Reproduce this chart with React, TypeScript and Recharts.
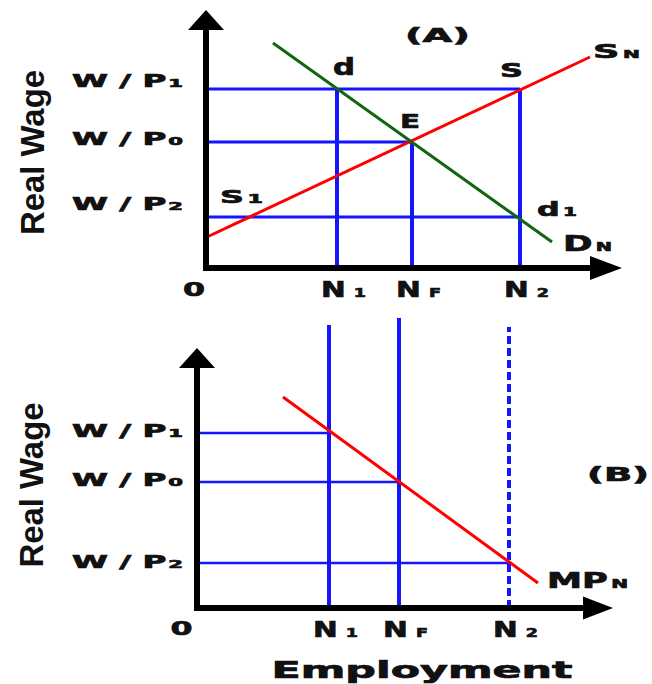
import React from "react";
import { LineChart, Line, XAxis, YAxis, ReferenceLine, ReferenceDot } from "recharts";

// panel (A): labour market, real wage vs employment
const wageA = [7.16, 5.04, 2.04]; // W/P1, W/P0, W/P2
const employA = [3.275, 5.15, 7.85]; // N1, NF, N2
const supplyA = [
  { n: 0.025, w: 1.24 },
  { n: 9.6, w: 8.44 },
];
const demandA = [
  { n: 1.675, w: 9.0 },
  { n: 8.65, w: 1.04 },
];
const axisTipA = { n: 10.4, w: 10.32 };

// panel (B): marginal product of labour
const wageB = [7.0, 5.04, 1.8];
const employB = [3.3, 5.05, 7.8];
const employTopB = [11.32, 11.6, 11.24];
const mpB = [
  { n: 2.15, w: 8.44 },
  { n: 8.525, w: 1.0 },
];
const axisTipB = { n: 10.4, w: 10.4 };

const wageLabels = [["W / P", "1"], ["W / P", "0"], ["W / P", "2"]];
const employLabels = [["N", "1"], ["N", "F"], ["N", "2"]];

const notesA = [
  { main: "d", sub: "", n: 3.175, w: 7.72 },
  { main: "S", sub: "", n: 7.35, w: 7.64 },
  { main: "E", sub: "", n: 4.85, w: 5.6 },
  { main: "(A)", sub: "", n: 4.975, w: 9.04 },
  { main: "S", sub: "N", n: 9.675, w: 8.4 },
  { main: "d", sub: "1", n: 8.275, w: 2.08 },
  { main: "D", sub: "N", n: 8.925, w: 0.68 },
  { main: "S", sub: "1", n: 0.35, w: 2.6 },
];
const notesB = [
  { main: "(B)", sub: "", n: 9.75, w: 5.08 },
  { main: "MP", sub: "N", n: 8.75, w: 0.8 },
];

// text sizes for the annotations: [font, sub font, stretched width]
const noteFont: Record<string, number[]> = {
  d: [23, 12, 22],
  S: [20, 11, 23],
  E: [20, 11, 20],
  "(A)": [20, 11, 65],
  SN: [20, 11, 47],
  d1: [19, 12, 40],
  DN: [22, 12, 49],
  S1: [18, 12, 43],
  "(B)": [20, 11, 62],
  MPN: [21, 12, 81],
};

const FONT = "'DejaVu Sans', Verdana, sans-serif";
const BLUE = "#1414ff";
const RED = "#ff0000";
const GREEN = "#116611";
const INK = "#111";

// DejaVu Sans Bold advance widths (em) for the glyphs used here
const ADV: Record<string, number> = {
  " ": 0.348, "(": 0.457, ")": 0.457, "/": 0.365,
  A: 0.774, B: 0.762, D: 0.83, E: 0.683, F: 0.683, M: 0.995, N: 0.837, P: 0.733, S: 0.72, W: 1.104,
  d: 0.716, e: 0.678, l: 0.343, m: 1.042, n: 0.712, o: 0.687, p: 0.716, t: 0.478, y: 0.652,
};
const adv = (s: string, size: number) =>
  s.split("").reduce((acc, c) => acc + (ADV[c] ?? (c >= "0" && c <= "9" ? 0.696 : 0.7)) * size, 0);

// bold text stretched horizontally to a given width (the source art is widened)
function Sub({ x, y, main, sub, size, subSize = 11, width, anchor = "start", subDx = 2 }: any) {
  const natural = adv(main, size) + (sub ? subDx + adv(sub, subSize) : 0);
  const k = width / natural;
  return (
    <text
      transform={`translate(${x},${y}) scale(${k.toFixed(3)},1)`}
      x={0}
      y={0}
      textAnchor={anchor}
      fontFamily={FONT}
      fontWeight="bold"
      fontSize={size}
      fill={INK}
      stroke={INK}
      strokeWidth={0.7}
    >
      {main}
      {sub ? (
        <tspan dx={subDx} fontSize={subSize}>
          {sub}
        </tspan>
      ) : null}
    </text>
  );
}

// thick black axis with a filled arrow head at the far end
const arrowAxis = (len: number, half: number) => (p: any) => {
  const { x1, y1, x2, y2 } = p;
  const L = Math.hypot(x2 - x1, y2 - y1) || 1;
  const ux = (x2 - x1) / L;
  const uy = (y2 - y1) / L;
  const bx = x2 - ux * len;
  const by = y2 - uy * len;
  return (
    <g>
      <line x1={x1 - ux * 3} y1={y1 - uy * 3} x2={bx + ux} y2={by + uy} stroke="#000" strokeWidth={6} />
      <polygon
        points={`${x2},${y2} ${bx - uy * half},${by + ux * half} ${bx + uy * half},${by - ux * half}`}
        fill="#000"
      />
    </g>
  );
};

const wageTick = (values: number[], dx: number, dys: number[]) => (p: any) => {
  const i = values.indexOf(p.payload.value);
  if (i < 0) return <g />;
  const [m, s] = wageLabels[i];
  return (
    <Sub x={p.x + dx} y={p.y + dys[i]} main={m} sub={s} size={17} subSize={11} width={111} anchor="end" subDx={1} />
  );
};

const employTick = (values: number[], zeroDx: number, zeroDy: number, nDx: number, nDy: number) => (p: any) => {
  const v = p.payload.value;
  if (v === 0) return <Sub x={p.x + zeroDx} y={p.y + zeroDy} main="0" size={20} width={22} anchor="middle" />;
  const i = values.indexOf(v);
  if (i < 0) return <g />;
  const [m, s] = employLabels[i];
  return <Sub x={p.x + nDx} y={p.y + nDy} main={m} sub={s} size={22} subSize={13} width={45} subDx={6} />;
};

const realWage = (dx: number, dy: number) => (props: any) => {
  const vb = props.viewBox;
  const cx = vb.x + dx;
  const cy = vb.y + vb.height / 2 + dy;
  return (
    <text
      transform={`translate(${cx},${cy}) rotate(-90)`}
      textAnchor="middle"
      dominantBaseline="central"
      fontFamily="'Liberation Sans', Arial, sans-serif"
      fontWeight="bold"
      fontSize={33}
      fill={INK}
      textLength={165}
      lengthAdjust="spacingAndGlyphs"
    >
      Real Wage
    </text>
  );
};

const employmentLabel = (props: any) => {
  const vb = props.viewBox;
  return (
    <Sub x={vb.x + vb.width / 2 + 15} y={vb.y + 70} main="Employment" size={23} width={301} anchor="middle" />
  );
};

function notes(list: typeof notesA) {
  return list.map((t) => {
    const [size, subSize, width] = noteFont[t.main + t.sub];
    return (
      <ReferenceDot
        key={t.main + t.sub + t.n}
        x={t.n}
        y={t.w}
        r={0}
        ifOverflow="visible"
        shape={(p: any) => (
          <Sub x={p.cx} y={p.cy} main={t.main} sub={t.sub} size={size} subSize={subSize} width={width} subDx={2} />
        )}
      />
    );
  });
}

function PanelA() {
  const guides = [
    // horizontals: wage level out to the curve
    [0, wageA[0], employA[2], wageA[0]],
    [0, wageA[1], employA[1], wageA[1]],
    [0, wageA[2], employA[2], wageA[2]],
  ];
  const drops = [
    [employA[0], wageA[0]],
    [employA[1], wageA[1]],
    [employA[2], wageA[0]],
  ];
  return (
    <LineChart width={652} height={310} margin={{ top: 8, right: 26, left: 10, bottom: 2 }}>
      <XAxis
        type="number"
        dataKey="n"
        domain={[0, 10.5]}
        ticks={[0, ...employA]}
        interval={0}
        axisLine={false}
        tickLine={false}
        tickSize={0}
        tickMargin={0}
        height={40}
        tick={employTick(employA, -12, 28, -16, 29)}
      />
      <YAxis
        type="number"
        domain={[0, 10.4]}
        ticks={wageA}
        interval={0}
        axisLine={false}
        tickLine={false}
        tickSize={0}
        tickMargin={0}
        width={196}
        tick={wageTick(wageA, -23, [-2, 3, -7])}
        label={{ content: realWage(22, 14.5) }}
      />
      {guides.map((g, i) => (
        <ReferenceLine
          key={"h" + i}
          segment={[{ x: g[0], y: g[1] }, { x: g[2], y: g[3] }]}
          stroke={BLUE}
          strokeWidth={3}
          ifOverflow="visible"
        />
      ))}
      {drops.map((d, i) => (
        <ReferenceLine
          key={"v" + i}
          segment={[{ x: d[0], y: 0 }, { x: d[0], y: d[1] }]}
          stroke={BLUE}
          strokeWidth={4}
          ifOverflow="visible"
        />
      ))}
      <Line data={supplyA} dataKey="w" type="linear" stroke={RED} strokeWidth={3} dot={false} isAnimationActive={false} />
      <Line data={demandA} dataKey="w" type="linear" stroke={GREEN} strokeWidth={3} dot={false} isAnimationActive={false} />
      <ReferenceLine
        segment={[{ x: 0, y: 0 }, { x: 0, y: axisTipA.w }]}
        ifOverflow="visible"
        shape={arrowAxis(20, 18)}
      />
      <ReferenceLine
        segment={[{ x: 0, y: 0 }, { x: axisTipA.n, y: 0 }]}
        ifOverflow="visible"
        shape={arrowAxis(32, 12)}
      />
      {notes(notesA)}
    </LineChart>
  );
}

function PanelB() {
  const guides = [
    [wageB[0], employB[0]],
    [wageB[1], employB[1]],
    [wageB[2], employB[2]],
  ];
  return (
    <LineChart width={652} height={384} margin={{ top: 48, right: 35, left: 7, bottom: 0 }}>
      <XAxis
        type="number"
        dataKey="n"
        domain={[0, 10.5]}
        ticks={[0, ...employB]}
        interval={0}
        axisLine={false}
        tickLine={false}
        tickSize={0}
        tickMargin={0}
        height={76}
        tick={employTick(employB, -15.5, 27, -16, 29)}
        label={{ content: employmentLabel }}
      />
      <YAxis
        type="number"
        domain={[0, 10.4]}
        ticks={wageB}
        interval={0}
        axisLine={false}
        tickLine={false}
        tickSize={0}
        tickMargin={0}
        width={190}
        tick={wageTick(wageB, -14, [4, 4, 5])}
        label={{ content: realWage(24, 7) }}
      />
      {guides.map((g, i) => (
        <ReferenceLine
          key={"h" + i}
          segment={[{ x: 0, y: g[0] }, { x: g[1], y: g[0] }]}
          stroke={BLUE}
          strokeWidth={2.5}
          ifOverflow="visible"
        />
      ))}
      {employB.map((n, i) => (
        <ReferenceLine
          key={"v" + i}
          segment={[{ x: n, y: 0 }, { x: n, y: employTopB[i] }]}
          stroke={BLUE}
          strokeWidth={4}
          strokeDasharray={i === 2 ? "8 4" : undefined}
          ifOverflow="visible"
        />
      ))}
      <Line data={mpB} dataKey="w" type="linear" stroke={RED} strokeWidth={3} dot={false} isAnimationActive={false} />
      <ReferenceLine
        segment={[{ x: 0, y: 0 }, { x: 0, y: axisTipB.w }]}
        ifOverflow="visible"
        shape={arrowAxis(20, 18)}
      />
      <ReferenceLine
        segment={[{ x: 0, y: 0 }, { x: axisTipB.n, y: 0 }]}
        ifOverflow="visible"
        shape={arrowAxis(30, 11.5)}
      />
      {notes(notesB)}
    </LineChart>
  );
}

export default function App() {
  return (
    <div style={{ position: "absolute", left: 0, top: 0, width: 652, height: 684, background: "#fff" }}>
      <div style={{ position: "absolute", left: 0, top: 0 }}>
        <PanelA />
      </div>
      <div style={{ position: "absolute", left: 0, top: 300 }}>
        <PanelB />
      </div>
    </div>
  );
}
